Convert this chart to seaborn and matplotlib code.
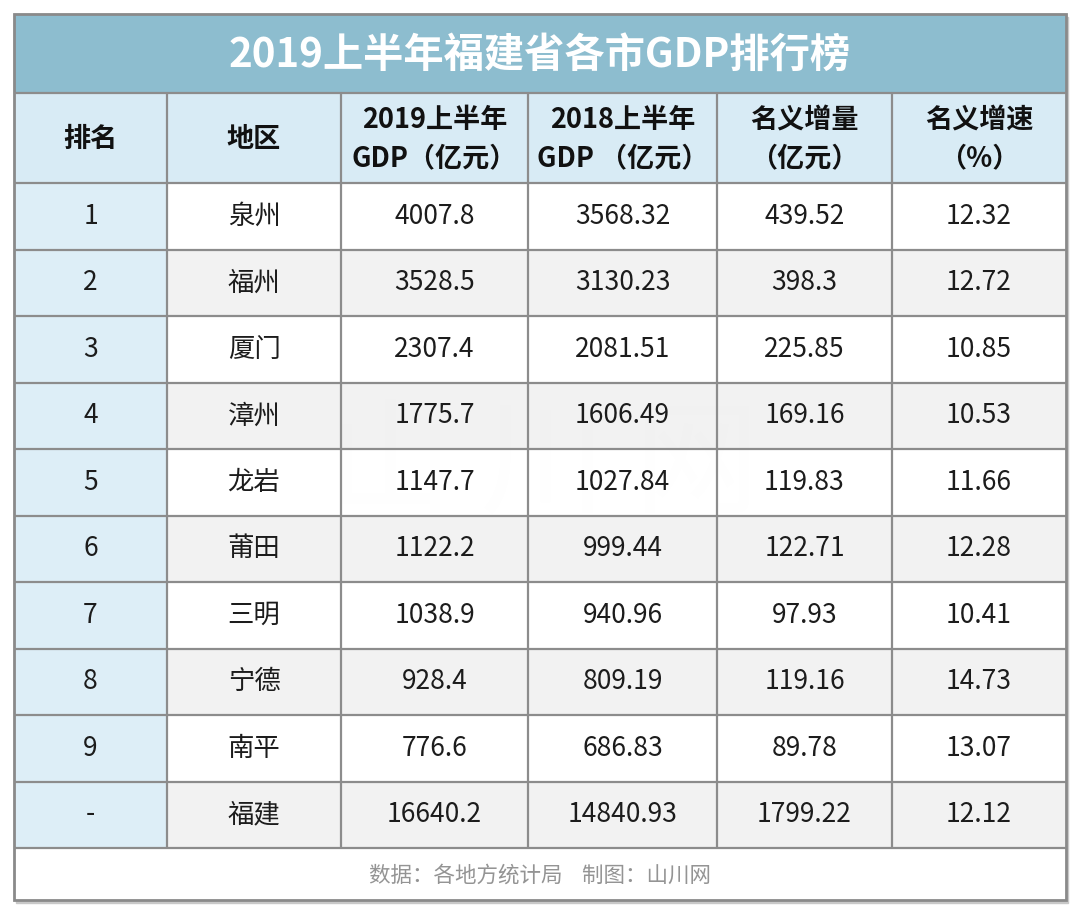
import numpy as np
import seaborn as sns
import matplotlib.pyplot as plt
from matplotlib.colors import ListedColormap
from matplotlib.patches import Rectangle

# 数据
ranks = ['1', '2', '3', '4', '5', '6', '7', '8', '9', '-']
cities = ['泉州', '福州', '厦门', '漳州', '龙岩', '莆田', '三明', '宁德', '南平', '福建']
gdp_2019 = [4007.8, 3528.5, 2307.4, 1775.7, 1147.7, 1122.2, 1038.9, 928.4, 776.6, 16640.2]
gdp_2018 = [3568.32, 3130.23, 2081.51, 1606.49, 1027.84, 999.44, 940.96, 809.19, 686.83, 14840.93]
increase = [439.52, 398.3, 225.85, 169.16, 119.83, 122.71, 97.93, 119.16, 89.78, 1799.22]
growth = [12.32, 12.72, 10.85, 10.53, 11.66, 12.28, 10.41, 14.73, 13.07, 12.12]

headers = ['排名', '地区', '2019上半年\nGDP（亿元）', '2018上半年\nGDP （亿元）',
           '名义增量\n（亿元）', '名义增速\n（%）']
title = '2019上半年福建省各市GDP排行榜'
footer = '数据：各地方统计局    制图：山川网'

sns.set_style('white')
plt.rcParams['font.family'] = ['Noto Sans CJK SC', 'DejaVu Sans']

# 表格文字与底色
columns = [ranks, cities] + [[str(v) for v in col] for col in (gdp_2019, gdp_2018, increase, growth)]
cells = np.array(columns, dtype=object).T
n_rows, n_cols = cells.shape
bg = np.zeros((n_rows, n_cols))
bg[1::2, :] = 1          # 隔行灰底
bg[:, 0] = 2             # 排名列浅蓝
cmap = ListedColormap(['#ffffff', '#f1f1f1', '#dbedf7'])

# 版面 (像素)
W, H = 1080, 915
col_edges = [14, 167, 341, 528, 717, 892, 1066]
y_title, y_head, y_body, y_foot, y_end = 14, 93, 183, 848, 900

fig = plt.figure(figsize=(W / 100, H / 100), dpi=100)
base = fig.add_axes([0, 0, 1, 1])
base.set_xlim(0, W)
base.set_ylim(H, 0)
base.axis('off')

# 阴影 + 背景
base.add_patch(Rectangle((col_edges[0] + 2, y_title + 3), col_edges[-1] - col_edges[0],
                         y_end - y_title, color='#c8c8c8', zorder=0))
base.add_patch(Rectangle((col_edges[0], y_title), col_edges[-1] - col_edges[0],
                         y_end - y_title, color='white', zorder=1))
base.add_patch(Rectangle((col_edges[0], y_title), col_edges[-1] - col_edges[0],
                         y_head - y_title, color='#8dbdcf', zorder=2))
base.add_patch(Rectangle((col_edges[0], y_head), col_edges[-1] - col_edges[0],
                         y_body - y_head, color='#d8ebf5', zorder=2))

base.text(540, 55, title, ha='center', va='center', color='white',
          fontsize=29, fontweight='bold', zorder=3)
for j, h in enumerate(headers):
    xc = (col_edges[j] + col_edges[j + 1]) / 2
    base.text(xc, 139, h, ha='center', va='center', fontsize=19.5, fontweight='bold',
              color='#111111', linespacing=1.45, zorder=3)
base.text(540, 876, footer, ha='center', va='center', fontsize=15.5, color='#949494', zorder=3)

# 水印 (很淡, 在表体下面)
base.text(543, 468, '山 川 网', ha='center', va='center', fontsize=90, color='#000000',
          alpha=0.03, zorder=2.5)

# 表体：每列一个 heatmap
for j in range(n_cols):
    x0, x1 = col_edges[j], col_edges[j + 1]
    ax = fig.add_axes([x0 / W, (H - y_foot) / H, (x1 - x0) / W, (y_foot - y_body) / H])
    sns.heatmap(bg[:, [j]], ax=ax, cmap=cmap, vmin=-0.5, vmax=2.5, cbar=False, alpha=0.93,
                annot=cells[:, [j]], fmt='', xticklabels=False, yticklabels=False,
                annot_kws={'fontsize': 19, 'color': '#1c1c1c', 'alpha': 1})
    ax.axis('off')
    ax.patch.set_alpha(0)

# 网格线
top = fig.add_axes([0, 0, 1, 1])
top.set_xlim(0, W)
top.set_ylim(H, 0)
top.axis('off')
top.patch.set_alpha(0)
row_edges = np.linspace(y_body, y_foot, n_rows + 1)
line_c = '#8c8c8c'
top.hlines([y_head] + list(row_edges), col_edges[0], col_edges[-1], colors=line_c, lw=1.6)
top.vlines(col_edges[1:-1], y_head, y_foot, colors=line_c, lw=1.6)
top.add_patch(Rectangle((col_edges[0], y_title), col_edges[-1] - col_edges[0],
                        y_end - y_title, fill=False, ec='#8a8a8a', lw=2))

fig.savefig('out.png', dpi=100)
